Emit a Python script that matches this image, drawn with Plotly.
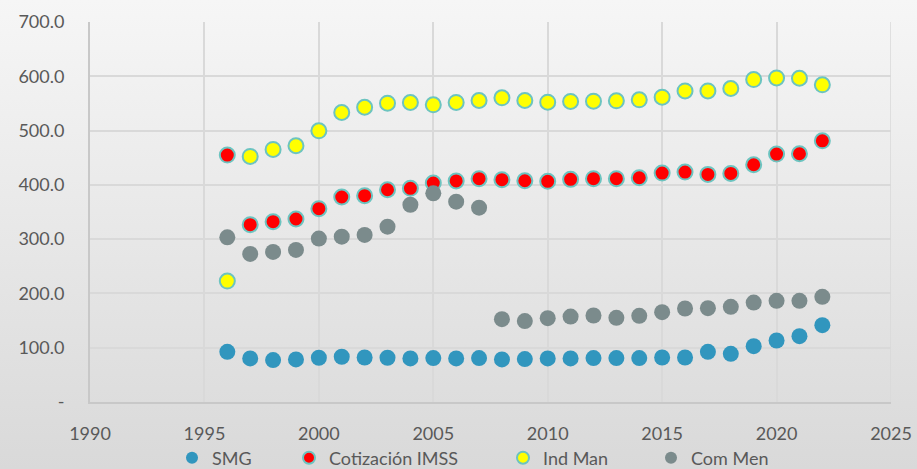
import plotly.graph_objects as go

years = list(range(1996, 2023))

smg = [92.5, 80.2, 77.2, 78.4, 81.5, 83.3, 82.0, 81.5, 80.2, 80.9,
       80.2, 80.9, 78.4, 79.0, 80.2, 80.2, 80.9, 80.9, 80.9, 82.0,
       82.0, 92.5, 88.8, 102.9, 113.3, 121.3, 141.6]
imss = [454.8, 326.7, 332.2, 337.1, 356.1, 377.6, 380.0, 391.0, 393.6, 403.3,
        407.3, 411.3, 409.5, 407.6, 406.5, 410.1, 411.3, 411.3, 413.1, 421.7,
        423.6, 419.3, 421.1, 437.0, 456.7, 457.3, 481.2]
ind_man = [222.8, 452.4, 465.3, 472.0, 499.6, 533.3, 543.0, 550.5, 551.7, 547.4,
           551.8, 555.4, 560.3, 555.4, 552.3, 553.6, 554.2, 554.8, 556.6, 561.5,
           573.1, 573.1, 577.5, 594.0, 597.0, 596.4, 584.2]
com_men = [303.4, 272.8, 276.4, 280.1, 301.0, 304.6, 307.7, 323.0, 363.4, 384.4,
           369.0, 357.9, 152.6, 149.0, 154.5, 157.4, 159.3, 155.0, 158.7, 165.5,
           172.2, 172.8, 175.3, 183.2, 186.3, 186.3, 193.7]

series_names = ["SMG", "Cotización IMSS", "Ind Man", "Com Men"]
y_tickvals = [0, 100, 200, 300, 400, 500, 600, 700]
y_ticktext = ["-", "100.0", "200.0", "300.0", "400.0", "500.0", "600.0", "700.0"]
x_tickvals = [1990, 1995, 2000, 2005, 2010, 2015, 2020, 2025]

font_family = "Lato, 'Open Sans', sans-serif"
txt = "#595959"
outline = "#6cc4c0"

W, H = 917, 469
ML, MR, MT, MB = 90, 26, 22, 67
PW, PH = W - ML - MR, H - MT - MB

fig = go.Figure()
fig.add_trace(go.Scatter(x=years, y=smg, mode="markers", name=series_names[0], legend="legend",
                         marker=dict(size=16, color="#3196be", line=dict(width=0))))
fig.add_trace(go.Scatter(x=years, y=imss, mode="markers", name=series_names[1], legend="legend2",
                         marker=dict(size=15, color="#ff0000", line=dict(width=2, color=outline))))
fig.add_trace(go.Scatter(x=years, y=ind_man, mode="markers", name=series_names[2], legend="legend3",
                         marker=dict(size=15, color="#ffff00", line=dict(width=2, color=outline))))
fig.add_trace(go.Scatter(x=years, y=com_men, mode="markers", name=series_names[3], legend="legend4",
                         marker=dict(size=16, color="#7b8b8c", line=dict(width=0))))

bg_svg = ("data:image/svg+xml;utf8,"
          "<svg xmlns='http://www.w3.org/2000/svg' width='100' height='100' preserveAspectRatio='none'>"
          "<defs><linearGradient id='g' x1='0' y1='0' x2='0' y2='1'>"
          "<stop offset='0' stop-color='%23f6f6f6'/><stop offset='1' stop-color='%23d9d9d9'/>"
          "</linearGradient></defs><rect width='100' height='100' fill='url(%23g)'/></svg>")


def leg(xpx):
    return dict(orientation="h", xref="container", yref="container",
                x=xpx / W, xanchor="left", y=1 - 458 / H, yanchor="middle",
                font=dict(size=18, color=txt), bgcolor="rgba(0,0,0,0)",
                itemwidth=30, itemsizing="constant")


fig.update_layout(
    width=W, height=H,
    margin=dict(l=ML, r=MR, t=MT, b=MB, autoexpand=False),
    paper_bgcolor="#e9e9e9",
    plot_bgcolor="rgba(0,0,0,0)",
    font=dict(family=font_family, color=txt, size=18),
    showlegend=True,
    legend=leg(172),
    legend2=leg(289),
    legend3=leg(503),
    legend4=leg(651),
    images=[dict(source=bg_svg, xref="paper", yref="paper",
                 x=-ML / PW, y=1 + MT / PH, sizex=W / PW, sizey=H / PH,
                 xanchor="left", yanchor="top", sizing="stretch", layer="below")],
)
fig.update_xaxes(range=[1990, 2025], tickvals=x_tickvals, showgrid=True,
                 gridcolor="#d9d9d9", gridwidth=1.5, zeroline=False,
                 showline=True, linecolor="#c8c8c8", linewidth=2,
                 ticks="", ticklabelstandoff=14, automargin=False,
                 tickfont=dict(size=18, color=txt))
fig.update_yaxes(range=[0, 700], tickvals=y_tickvals, ticktext=y_ticktext,
                 showgrid=True, gridcolor="#d9d9d9", gridwidth=1.5, zeroline=False,
                 showline=True, linecolor="#c8c8c8", linewidth=2,
                 ticks="", ticklabelstandoff=20, automargin=False,
                 tickfont=dict(size=18, color=txt))
fig.add_shape(type="line", xref="x", yref="paper", x0=2025, x1=2025, y0=0, y1=1,
              line=dict(color="#d9d9d9", width=1.5), layer="below")

fig.write_html("out.html", config={"displayModeBar": False},
               post_script="document.body.style.margin='0';")
